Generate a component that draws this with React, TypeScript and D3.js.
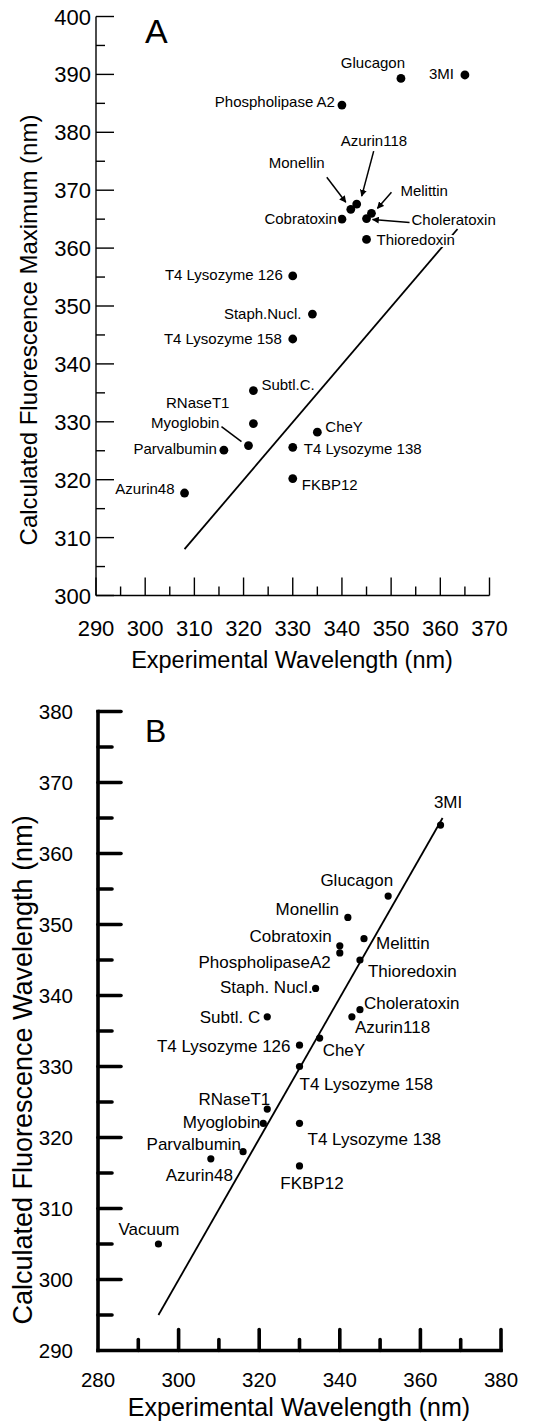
import React from 'react';
import * as d3 from 'd3';

// ---------- Panel A data ----------
const proteinsA = ['Glucagon', '3MI', 'Phospholipase A2', 'Azurin118', 'Monellin', 'Melittin', 'Cobratoxin', 'Choleratoxin', 'Thioredoxin', 'T4 Lysozyme 126', 'Staph.Nucl.', 'T4 Lysozyme 158', 'Subtl.C.', 'RNaseT1', 'Myoglobin', 'Parvalbumin', 'CheY', 'T4 Lysozyme 138', 'FKBP12', 'Azurin48'];
const expA = [352, 365, 340, 343, 341.8, 346, 340, 345, 345, 330, 334, 330, 322, 322, 321, 316, 335, 330, 330, 308];
const calcA = [389.3, 389.9, 384.7, 367.6, 366.7, 366, 365, 365.1, 361.5, 355.2, 348.6, 344.3, 335.4, 329.7, 325.9, 325.1, 328.2, 325.6, 320.2, 317.7];
const fitA = [[308, 308], [363.5, 363.3]];
const xTicksA = [290, 300, 310, 320, 330, 340, 350, 360, 370];
const yTicksA = [300, 310, 320, 330, 340, 350, 360, 370, 380, 390, 400];

// ---------- Panel B data ----------
const proteinsB = ['3MI', 'Glucagon', 'Monellin', 'Melittin', 'Cobratoxin', 'PhospholipaseA2', 'Thioredoxin', 'Staph. Nucl.', 'Choleratoxin', 'Azurin118', 'Subtl. C', 'CheY', 'T4 Lysozyme 126', 'T4 Lysozyme 158', 'RNaseT1', 'Myoglobin', 'T4 Lysozyme 138', 'Parvalbumin', 'Azurin48', 'FKBP12', 'Vacuum'];
const expB = [365, 352, 342, 346, 340, 340, 345, 334, 345, 343, 322, 335, 330, 330, 322, 321, 330, 316, 308, 330, 295];
const calcB = [364, 354, 351, 348, 347, 346, 345, 341, 338, 337, 337, 334, 333, 330, 324, 322, 322, 318, 317, 316, 305];
const fitB = [[295, 295], [365.5, 365]];
const xTicksB = [280, 300, 320, 340, 360, 380];
const yTicksB = [290, 300, 310, 320, 330, 340, 350, 360, 370, 380];

// ---------- Layout (label offsets in px relative to point) ----------
type Lab = [number, number, 'start' | 'middle' | 'end'];
const labelPosA: Record<string, Lab> = {
  'Glucagon': [-28, -10, 'middle'],
  '3MI': [-11, 4, 'end'],
  'Phospholipase A2': [-7, 2, 'end'],
  'Azurin118': [-16, -58, 'start'],
  'Monellin': [-82, -41, 'start'],
  'Melittin': [29, -17, 'start'],
  'Cobratoxin': [-5, 4.5, 'end'],
  'Choleratoxin': [45, 6, 'start'],
  'Thioredoxin': [10, 6, 'start'],
  'T4 Lysozyme 126': [-10, 4, 'end'],
  'Staph.Nucl.': [-11, 5, 'end'],
  'T4 Lysozyme 158': [-11, 4.5, 'end'],
  'Subtl.C.': [8, -1, 'start'],
  'RNaseT1': [-24, -15.7, 'end'],
  'Myoglobin': [-29, -17.7, 'end'],
  'Parvalbumin': [-7, 4, 'end'],
  'CheY': [8, 0, 'start'],
  'T4 Lysozyme 138': [11, 7, 'start'],
  'FKBP12': [9, 11, 'start'],
  'Azurin48': [-10, 1, 'end'],
};
// arrows: [fromDx, fromDy, toDx, toDy, head]
const arrowsA: Record<string, [number, number, number, number, boolean]> = {
  'Monellin': [-24, -32, -5, -7, true],
  'Azurin118': [17, -53, 5, -8, true],
  'Melittin': [20, -21, 6, -5, true],
  'Choleratoxin': [43, 4, 6, 1, true],
  'Myoglobin': [-27, -19, -7, -4, false],
};
const labelPosB: Record<string, Lab> = {
  '3MI': [7.5, -17, 'middle'],
  'Glucagon': [5, -10, 'end'],
  'Monellin': [-9, -2, 'end'],
  'Cobratoxin': [-8, -4, 'end'],
  'Melittin': [12, 10, 'start'],
  'PhospholipaseA2': [-9, 15, 'end'],
  'Thioredoxin': [8, 17, 'start'],
  'Staph. Nucl.': [-3, 5, 'end'],
  'Choleratoxin': [4, -1, 'start'],
  'Azurin118': [3, 16, 'start'],
  'Subtl. C': [-7, 6, 'end'],
  'T4 Lysozyme 126': [-9, 7, 'end'],
  'CheY': [3, 18, 'start'],
  'T4 Lysozyme 158': [0, 23, 'start'],
  'RNaseT1': [3, -4, 'end'],
  'Myoglobin': [-3, 5, 'end'],
  'T4 Lysozyme 138': [8, 22, 'start'],
  'Parvalbumin': [-2, -2, 'end'],
  'Azurin48': [-11.5, 22, 'middle'],
  'FKBP12': [12.5, 23, 'middle'],
  'Vacuum': [-9.5, -9, 'middle'],
};

const FONT = "'Liberation Sans', Arial, Helvetica, sans-serif";

export default function App() {
  const xA = d3.scaleLinear().domain([290, 370]).range([96, 489.5]);
  const yA = d3.scaleLinear().domain([300, 400]).range([595.5, 16.5]);
  const xB = d3.scaleLinear().domain([280, 380]).range([98, 501]);
  const yB = d3.scaleLinear().domain([290, 380]).range([1350.5, 711.5]);
  const line = d3.line<number[]>();

  const minorXA = xA.ticks(16);
  const minorYA = yA.ticks(20);
  const minorXB = xB.ticks(10);
  const minorYB = yB.ticks(18);

  return (
    <svg width={541} height={1427} style={{ position: 'absolute', left: 0, top: 0, background: '#fff' }} fontFamily={FONT}>
      <defs>
        <marker id="ah" viewBox="0 0 10 10" refX="9" refY="5" markerWidth="7" markerHeight="7" markerUnits="userSpaceOnUse" orient="auto">
          <path d="M0,0 L10,5 L0,10 z" fill="#000" />
        </marker>
      </defs>
      <rect x={0} y={0} width={541} height={1427} fill="#fff" />

      {/* ================= Panel A ================= */}
      <g>
        {/* axes */}
        <line x1={xA(290)} x2={xA(290)} y1={yA(300)} y2={yA(400)} stroke="#000" strokeWidth={1.4} />
        <line x1={xA(290)} x2={xA(370)} y1={yA(300)} y2={yA(300)} stroke="#000" strokeWidth={1.4} />
        {minorYA.map((v) => (
          <line key={'ya' + v} x1={xA(290)} x2={xA(290) + (v % 10 === 0 ? 18 : 9)} y1={yA(v)} y2={yA(v)} stroke="#000" strokeWidth={1.4} />
        ))}
        {minorXA.map((v) => (
          <line key={'xa' + v} x1={xA(v)} x2={xA(v)} y1={yA(300)} y2={yA(300) - (v % 10 === 0 ? 18 : 9)} stroke="#000" strokeWidth={1.4} />
        ))}
        {yTicksA.map((v) => (
          <text key={'yla' + v} x={xA(290) - 5} y={yA(v) + 8} fontSize={22} textAnchor="end">{v}</text>
        ))}
        {xTicksA.map((v) => (
          <text key={'xla' + v} x={xA(v)} y={636} fontSize={22} textAnchor="middle">{v}</text>
        ))}
        <text x={292} y={668} fontSize={23.5} textAnchor="middle">Experimental Wavelength (nm)</text>
        <text transform="translate(37,330) rotate(-90)" fontSize={24} textAnchor="middle">Calculated Fluorescence Maximum (nm)</text>
        <text x={145} y={43} fontSize={34}>A</text>

        {/* fit line */}
        <path d={line(fitA.map((p) => [xA(p[0]), yA(p[1])]) as any) || ''} stroke="#000" strokeWidth={1.8} fill="none" />

        {/* arrows */}
        {proteinsA.map((n, i) => {
          const a = arrowsA[n];
          if (!a) return null;
          const px = xA(expA[i]), py = yA(calcA[i]);
          return (
            <line key={'ar' + n} x1={px + a[0]} y1={py + a[1]} x2={px + a[2]} y2={py + a[3]} stroke="#000" strokeWidth={1.5} markerEnd={a[4] ? 'url(#ah)' : undefined} />
          );
        })}

        {/* points */}
        {proteinsA.map((n, i) => (
          <circle key={'pa' + n} cx={xA(expA[i])} cy={yA(calcA[i])} r={4.4} fill="#000" />
        ))}
        {proteinsA.map((n, i) => {
          const l = labelPosA[n];
          return (
            <text key={'la' + n} x={xA(expA[i]) + l[0]} y={yA(calcA[i]) + l[1]} fontSize={15} textAnchor={l[2]}
              stroke="#fff" strokeWidth={4} paintOrder="stroke" fill="#000">{n}</text>
          );
        })}
      </g>

      {/* ================= Panel B ================= */}
      <g>
        <line x1={xB(280)} x2={xB(280)} y1={yB(290)} y2={yB(380)} stroke="#000" strokeWidth={3.6} strokeLinecap="square" />
        <line x1={xB(280)} x2={xB(380)} y1={yB(290)} y2={yB(290)} stroke="#000" strokeWidth={3.6} strokeLinecap="square" />
        {minorYB.map((v) => (
          v === 290 ? null :
          <line key={'yb' + v} x1={xB(280)} x2={xB(280) + (v % 10 === 0 ? 23 : 14)} y1={yB(v)} y2={yB(v)} stroke="#000" strokeWidth={3.6} strokeLinecap="round" />
        ))}
        {minorXB.map((v) => (
          v === 280 ? null :
          <line key={'xb' + v} x1={xB(v)} x2={xB(v)} y1={yB(290)} y2={yB(290) - (v % 20 === 0 ? 21 : 11)} stroke="#000" strokeWidth={3.6} strokeLinecap="round" />
        ))}
        {yTicksB.map((v) => (
          <text key={'ylb' + v} x={73} y={yB(v) + 7.5} fontSize={20.5} textAnchor="end">{v}</text>
        ))}
        {xTicksB.map((v) => (
          <text key={'xlb' + v} x={xB(v)} y={1387} fontSize={20.5} textAnchor="middle">{v}</text>
        ))}
        <text x={299} y={1416} fontSize={25} textAnchor="middle">Experimental Wavelength (nm)</text>
        <text transform="translate(32,1070) rotate(-90)" fontSize={27} textAnchor="middle">Calculated Fluorescence Wavelength (nm)</text>
        <text x={145} y={742} fontSize={32}>B</text>

        <path d={line(fitB.map((p) => [xB(p[0]), yB(p[1])]) as any) || ''} stroke="#000" strokeWidth={1.8} fill="none" />

        {proteinsB.map((n, i) => (
          <circle key={'pb' + n} cx={xB(expB[i])} cy={yB(calcB[i])} r={3.6} fill="#000" />
        ))}
        {proteinsB.map((n, i) => {
          const l = labelPosB[n];
          return (
            <text key={'lb' + n} x={xB(expB[i]) + l[0]} y={yB(calcB[i]) + l[1]} fontSize={17} textAnchor={l[2]}>{n}</text>
          );
        })}
      </g>
    </svg>
  );
}
